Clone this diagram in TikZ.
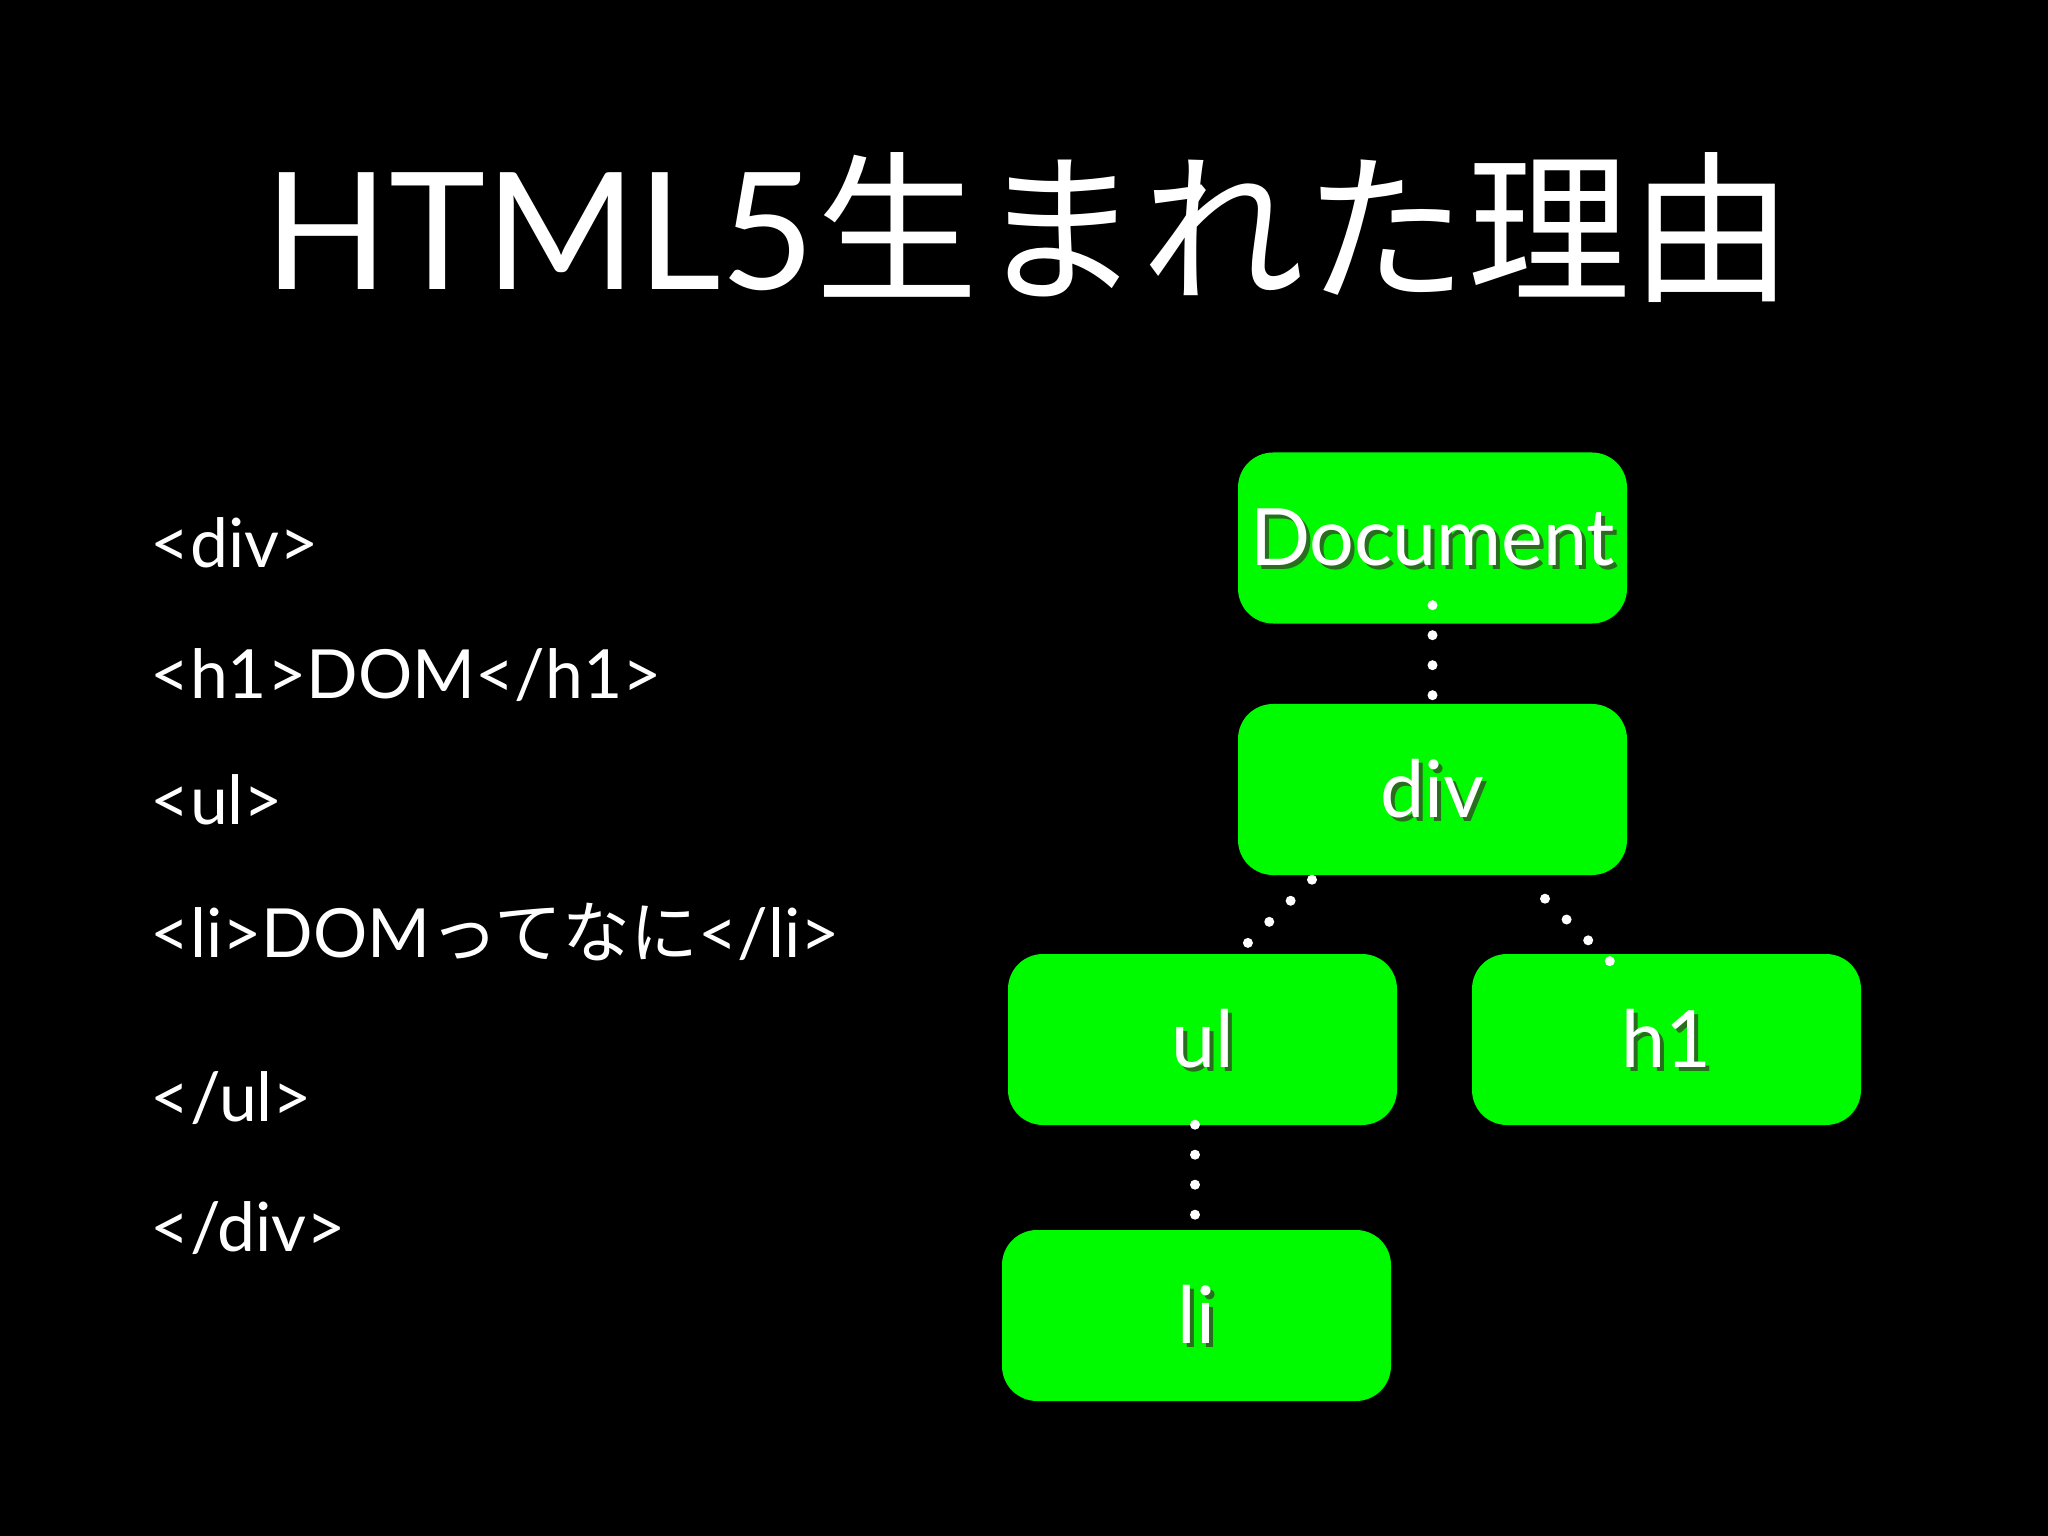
\documentclass[tikz,border=0pt]{standalone}
\usepackage{fontspec}
\setmainfont{Lato}
\newfontfamily\jpfont{Noto Sans CJK JP}
\usepackage{xcolor}
\usepackage{tikz}

\definecolor{domgreen}{RGB}{0,250,0}
\definecolor{txtshade}{RGB}{40,110,30}
\newcommand{\shadowed}[1]{\makebox[0pt][l]{\hspace{0.04cm}\raisebox{-0.04cm}{\color{txtshade}#1}}#1}

\begin{document}
\begin{tikzpicture}[
  domnode/.style={fill=domgreen,rounded corners=0.35cm,minimum width=3.89cm,
                  minimum height=1.71cm,text=white,text height=0.56cm,text depth=0pt,
                  font=\fontsize{22.5}{27}\selectfont,inner sep=0pt},
  codeline/.style={anchor=base west,text=white,font=\fontsize{19.3}{23}\selectfont,inner sep=0pt},
  dotline/.style={white,line width=0.1cm,line cap=round,dash pattern=on 0pt off 0.3cm}]

  \fill[black] (0,0) rectangle (20.48,-15.36);
  \useasboundingbox (0,0) rectangle (20.48,-15.36);

  % Title
  \node[anchor=base west,text=white,inner sep=0pt,font=\fontsize{46.4}{56}\selectfont]
    (title) at (2.64,-2.90) {HTML5{\jpfont 生まれた理由}};

  % Markup
  \node[codeline] (cdiv)    at (1.50,-5.68)  {<div>};
  \node[codeline] (ch)      at (1.50,-6.99)  {<h1>DOM</h1>};
  \node[codeline] (cul)     at (1.50,-8.25)  {<ul>};
  \node[codeline] (cli)     at (1.50,-9.57)  {<li>DOM{\jpfont ってなに}</li>};
  \node[codeline] (culend)  at (1.50,-11.21) {</ul>};
  \node[codeline] (cdivend) at (1.50,-12.51) {</div>};

  % DOM tree
  \node[domnode] (doc) at (14.325,-5.38)   {\shadowed{Document}};
  \node[domnode] (div) at (14.325,-7.895)  {\shadowed{div}};
  \node[domnode] (ul)  at (12.025,-10.395) {\shadowed{ul}};
  \node[domnode] (h)   at (16.665,-10.395) {\shadowed{h1}};
  \node[domnode] (li)  at (11.965,-13.155) {\shadowed{li}};

  % Dotted links
  \draw[dotline] ([yshift=0.19cm]doc.south) -- ([yshift=0.065cm]div.north);
  \draw[dotline] ([xshift=-1.205cm,yshift=-0.04cm]div.south)
    -- ([xshift=0.45cm,yshift=0.10cm]ul.north);
  \draw[dotline] ([xshift=1.125cm,yshift=-0.23cm]div.south)
    -- ([xshift=-0.555cm,yshift=-0.09cm]h.north);
  \draw[dotline] ([xshift=-0.075cm,yshift=0.01cm]ul.south)
    -- ([xshift=-0.015cm,yshift=0.12cm]li.north);
\end{tikzpicture}
\end{document}
